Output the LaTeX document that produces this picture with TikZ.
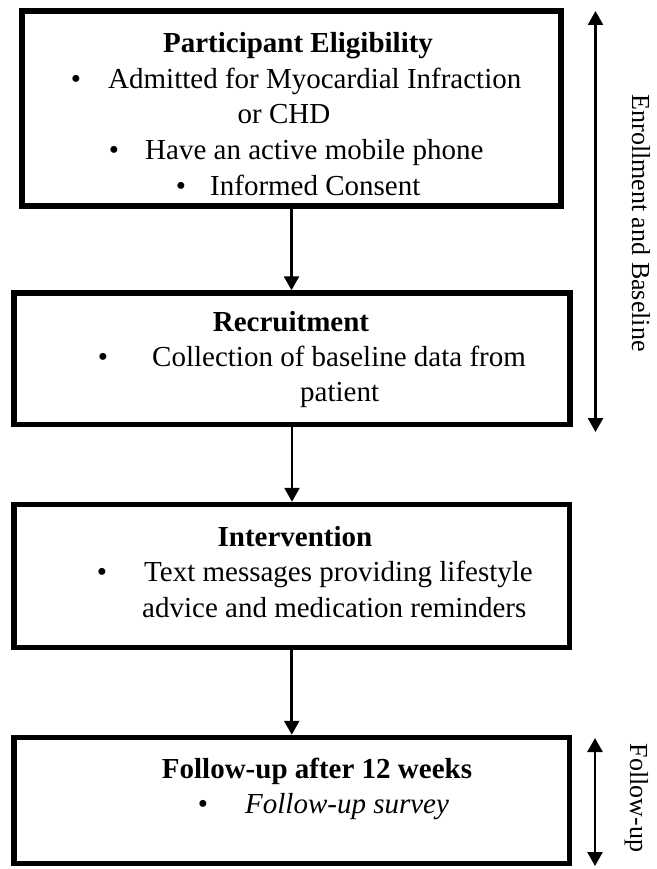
\documentclass[tikz,border=0pt]{standalone}
\usepackage{fontspec}
\setmainfont{Liberation Serif}
\usetikzlibrary{arrows.meta}
\tikzset{
  box/.style={draw=black, line width=5.5pt, inner sep=0pt, rectangle},
  body/.style={font=\fontsize{29}{35}\selectfont, inner sep=0pt, anchor=base west},
  ttl/.style={font=\bfseries\fontsize{29}{35}\selectfont, inner sep=0pt, anchor=base},
  bul/.style={font=\fontsize{29}{35}\selectfont, inner sep=0pt, anchor=base},
  side/.style={font=\fontsize{26}{30}\selectfont, rotate=-90, anchor=base, inner sep=0pt},
  flow/.style={-{Triangle[length=14pt,width=15pt]}, line width=2.6pt},
  span/.style={{Triangle[length=14pt,width=15pt]}-{Triangle[length=14pt,width=15pt]}, line width=2.5pt}
}
\begin{document}
\begin{tikzpicture}[x=1pt,y=-1pt]
\useasboundingbox (0,0) rectangle (656,869);
% boxes
\node[box, minimum width=539pt, minimum height=195pt] (b1) at (291.5,108.5) {};
\node[box, minimum width=556pt, minimum height=131.5pt] (b2) at (292,358.75) {};
\node[box, minimum width=555.5pt, minimum height=143pt] (b3) at (291.75,576) {};
\node[box, minimum width=555.5pt, minimum height=126pt] (b4) at (291.75,800.5) {};
% box 1 text
\node[ttl] (t1) at (298,53) {Participant Eligibility};
\node[bul] (p1a) at (76,88.5) {•};
\node[body] (l1a) at (108,88.5) {Admitted for Myocardial Infraction};
\node[bul] (l1b) at (284,124) {or CHD};
\node[bul] (p1c) at (114,159.5) {•};
\node[body] (l1c) at (145,159.5) {Have an active mobile phone};
\node[bul] (p1d) at (181,195) {•};
\node[body] (l1d) at (210,195) {Informed Consent};
% box 2 text
\node[ttl] (t2) at (291,331) {Recruitment};
\node[bul] (p2a) at (103,366) {•};
\node[body] (l2a) at (152,366) {Collection of baseline data from};
\node[body] (l2b) at (300,401) {patient};
% box 3 text
\node[ttl] (t3) at (295,546) {Intervention};
\node[bul] (p3a) at (102,581.5) {•};
\node[body] (l3a) at (144,581.5) {Text messages providing lifestyle};
\node[body] (l3b) at (142,617) {advice and medication reminders};
% box 4 text
\node[ttl] (t4) at (317,778) {Follow-up after 12 weeks};
\node[bul] (p4a) at (203,813.5) {•};
\node[body, font=\itshape\fontsize{29}{35}\selectfont] (l4a) at (245,813.5) {Follow-up survey};
% flow arrows
\draw[flow] (b1.south) -- (b1.south |- b2.north);
\draw[flow] (b2.south) -- (b2.south |- b3.north);
\draw[flow] (b3.south) -- (b3.south |- b4.north);
% side spans
\coordinate (e1) at (595.5,11);
\coordinate (e2) at (595.5,432);
\coordinate (f1) at (595,738);
\coordinate (f2) at (595,866);
\draw[span] (e1) -- (e2);
\draw[span] (f1) -- (f2);
\node[side] (s1) at (632,223) {Enrollment and Baseline};
\node[side] (s2) at (630,798) {Follow-up};
\end{tikzpicture}
\end{document}
